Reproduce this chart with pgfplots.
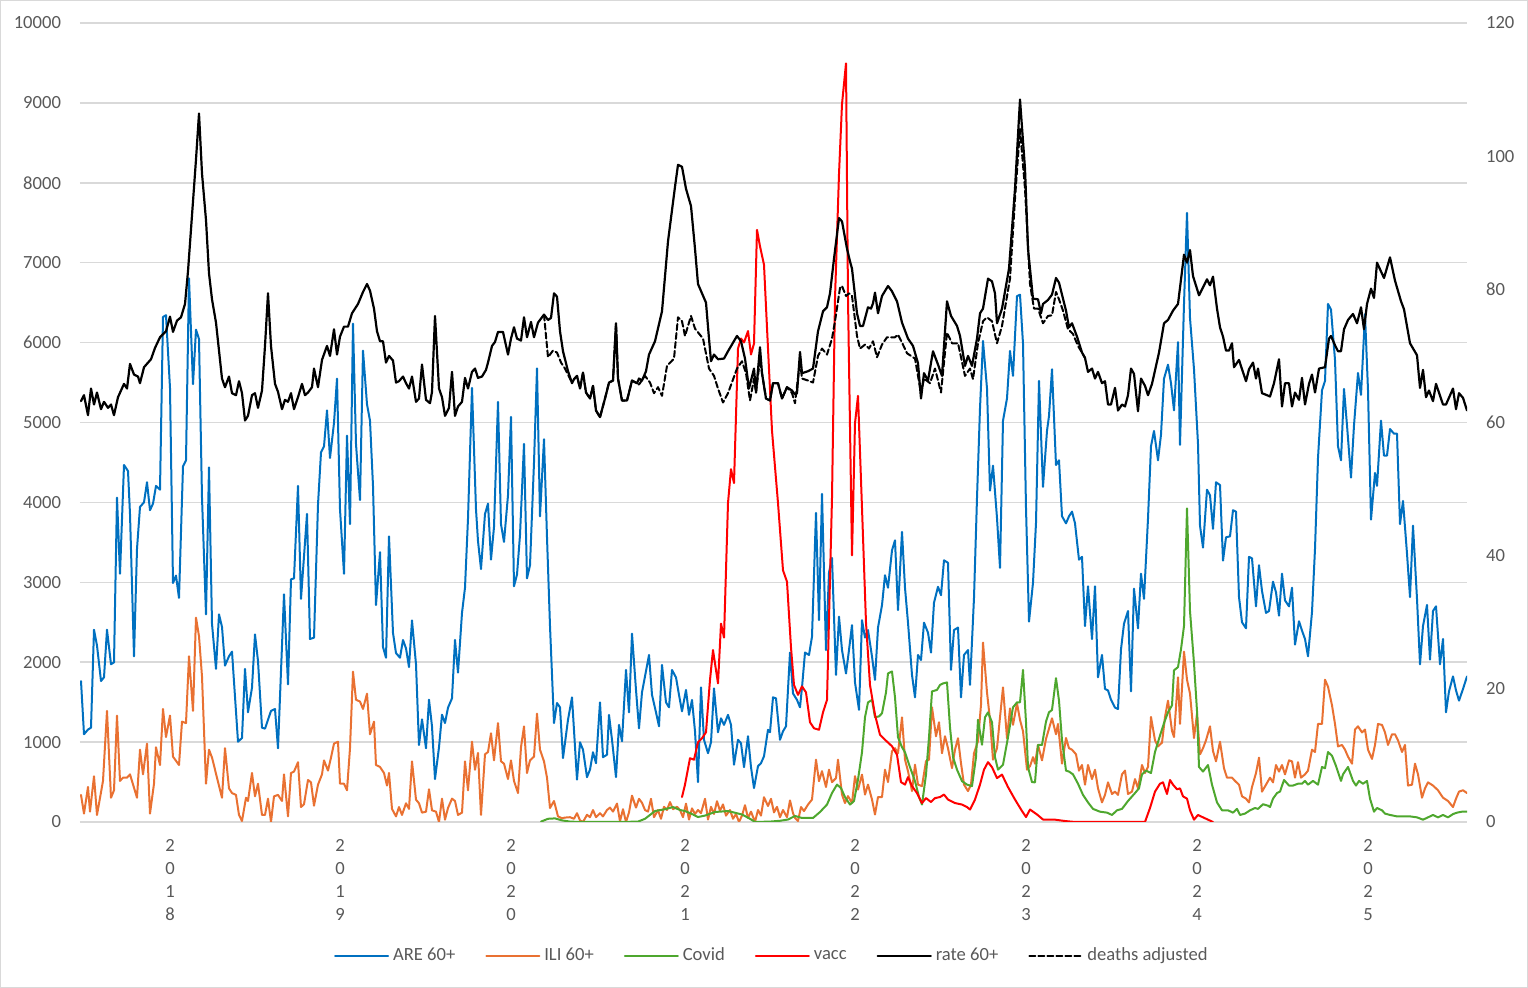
\documentclass[border=0pt]{standalone}
\usepackage{fontspec}
\setmainfont{Carlito}
\usepackage{pgfplots}
\pgfplotsset{compat=1.18}
\usepackage{pgfplotstable}
\definecolor{areblue}{HTML}{0070C0}
\definecolor{iliorange}{HTML}{E97132}
\definecolor{covgreen}{HTML}{4EA72E}
\definecolor{vaccred}{HTML}{FF0000}
\definecolor{labgray}{HTML}{595959}
\definecolor{gridgray}{HTML}{D9D9D9}

% x = position along the weekly time axis, y = value
\pgfplotstableread{
x y
81 1764
84 1098
88 1157
91 1180
94 2406
97 2208
101 1764
104 1811
107 2406
111 1974
114 1998
117 4060
120 3107
124 4468
128 4392
130 3855
134 2074
137 3417
140 3943
144 4001
147 4252
150 3902
153 3984
156 4206
160 4159
163 6320
166 6343
170 5432
173 2991
176 3084
179 2804
183 4451
186 4527
189 6805
193 5479
196 6162
199 6045
202 4060
206 2599
209 4439
212 2482
216 1916
219 2599
222 2441
225 1957
229 2074
232 2132
238 1005
242 1051
245 1916
248 1373
252 1682
255 2348
258 2015
262 1180
265 1168
271 1390
275 1414
278 923
284 2850
288 1723
291 3037
294 3049
298 4206
301 2792
307 3855
310 2290
314 2307
318 3972
321 4626
324 4702
327 5152
330 4556
334 4994
337 5549
340 3913
344 3107
347 4836
350 3727
353 6238
356 4731
360 4030
363 5899
367 5228
370 5023
373 4206
376 2716
380 3376
383 2190
386 2056
389 3575
393 2366
396 2114
400 2056
403 2278
406 2173
409 1939
412 2523
416 1974
419 964
422 1285
426 923
429 1530
432 1197
435 537
439 935
442 1343
445 1238
448 1431
452 1548
455 2278
458 1869
462 2617
465 2932
468 3797
472 5432
476 3913
478 3516
481 3166
485 3855
488 3984
491 3283
494 3692
498 5257
501 3727
504 3505
508 4089
511 5070
514 2950
517 3096
520 3592
524 4731
527 3049
530 3213
534 4498
537 5677
540 3826
544 4790
547 3563
550 2453
554 1238
557 1489
560 1435
563 800
568 1279
572 1560
577 530
580 998
583 905
587 561
590 655
593 873
596 736
600 1497
603 811
607 842
609 1341
612 1029
616 561
619 1216
622 1011
626 1903
629 1372
632 2358
636 1653
639 1173
642 1622
649 2090
652 1591
656 1372
659 1198
662 1965
666 1497
669 1435
672 1903
676 1809
679 1591
682 1385
686 1653
689 1341
692 1528
695 1135
698 499
701 1684
704 1029
708 861
711 998
714 1672
718 1123
721 1297
724 1216
728 1341
731 1216
734 717
738 1029
741 986
744 686
748 1073
751 686
754 424
758 699
761 736
764 823
768 1154
770 1123
773 1560
776 1547
780 1029
783 1135
786 1198
790 2121
793 1609
797 1528
800 1435
802 1684
805 2121
809 2090
812 2320
816 3868
819 2526
822 4105
826 2152
829 3119
832 3306
836 1840
839 2570
842 2152
846 1859
849 2152
852 2464
855 1747
859 1404
862 2526
865 2308
868 2402
872 2071
875 1778
878 2433
882 2714
885 3088
888 2932
892 3400
895 3525
898 2651
902 3631
905 2932
908 2495
912 1840
915 1560
918 2090
921 2027
924 2495
928 2370
931 2121
934 2745
938 2944
941 2838
944 3275
948 3244
951 1903
954 2402
958 2433
961 1560
964 2090
968 2152
970 1715
974 2807
977 4055
980 5177
983 6020
987 5427
990 4148
993 4460
997 3805
1000 3181
1003 5022
1007 5302
1010 5895
1013 5583
1017 6581
1020 6600
1023 5988
1026 3930
1029 2508
1033 2994
1036 3743
1039 5520
1043 4194
1047 4895
1049 5082
1052 5666
1056 4468
1059 4527
1062 3826
1066 3738
1069 3826
1072 3884
1075 3738
1079 3283
1082 3318
1085 2453
1088 2950
1092 2290
1095 2950
1098 1811
1102 2091
1105 1665
1108 1647
1111 1530
1115 1431
1118 1414
1121 2161
1124 2482
1128 2640
1131 1635
1134 2920
1138 2424
1141 3107
1144 2792
1148 3797
1151 4702
1154 4895
1158 4527
1161 4848
1164 5549
1168 5724
1171 5491
1174 5152
1178 6005
1180 4720
1184 6484
1187 7623
1190 6308
1194 5666
1198 4731
1200 3709
1203 3434
1207 4159
1210 4089
1213 3668
1216 4252
1220 4217
1223 3271
1226 3563
1230 3575
1233 3902
1236 3884
1239 2815
1242 2500
1246 2424
1249 3318
1252 3300
1256 2699
1259 3213
1262 2891
1266 2617
1269 2640
1273 3008
1276 2874
1279 2582
1282 3107
1285 2774
1289 2699
1292 2932
1295 2220
1299 2512
1302 2395
1305 2290
1308 2074
1312 2628
1315 3417
1318 4556
1322 5403
1325 5520
1328 6484
1331 6413
1335 5783
1338 4702
1341 4527
1344 5420
1347 4965
1351 4311
1354 4965
1358 5619
1361 5345
1365 6355
1368 5403
1371 3785
1375 4369
1377 4206
1381 5023
1384 4585
1387 4585
1390 4918
1394 4860
1397 4860
1400 3727
1403 4019
1407 3359
1410 2815
1413 3709
1417 2792
1420 1974
1423 2453
1427 2716
1430 2033
1433 2640
1436 2699
1440 1974
1443 2290
1446 1373
1449 1635
1453 1822
1456 1647
1459 1519
1463 1665
1467 1822
}\areTable

\pgfplotstableread{
x y
81 339
84 105
88 438
90 129
94 572
97 88
103 514
107 1390
111 304
114 397
117 1332
120 514
123 555
127 555
130 596
137 304
140 905
143 596
147 981
150 105
154 479
156 935
160 713
163 1414
166 1063
170 1332
173 818
179 713
182 1256
186 1238
189 2074
193 1390
196 2558
199 2325
202 1822
206 479
209 905
212 806
222 304
225 923
229 421
232 362
236 339
239 88
242 12
246 304
248 263
252 613
255 321
258 479
262 88
265 88
268 292
271 0
274 321
278 339
282 263
284 596
288 70
291 613
294 631
298 748
301 187
304 222
308 526
311 496
314 204
318 467
322 596
324 771
328 643
331 806
334 981
338 1005
340 479
344 479
347 397
350 923
353 1881
356 1530
360 1507
363 1414
367 1606
370 1098
374 1256
376 713
380 689
384 613
387 456
389 613
392 164
396 70
399 187
402 88
406 234
409 164
412 759
416 280
419 234
422 117
426 129
429 409
432 146
436 129
439 0
442 292
445 29
448 175
452 292
455 263
458 88
462 117
465 759
468 397
472 1005
475 654
478 864
481 88
485 847
488 876
491 1110
494 771
498 1238
501 759
504 730
508 537
511 771
514 514
518 362
521 935
524 1197
527 613
530 771
534 818
537 1355
540 905
544 759
547 555
550 175
554 263
558 70
562 47
565 55
570 60
574 40
577 110
580 20
583 0
587 90
590 60
593 150
596 60
600 110
603 70
607 150
610 180
613 130
617 230
620 10
623 160
626 0
629 120
632 330
636 180
639 290
642 240
645 150
648 130
651 290
654 60
658 150
661 40
664 190
667 150
670 250
673 160
677 190
680 150
683 60
686 230
689 30
692 170
695 100
698 150
701 110
705 290
708 30
711 190
714 100
717 260
720 140
723 220
726 80
730 150
733 40
736 100
739 0
742 80
745 210
748 50
751 130
755 0
758 150
761 80
764 310
768 200
771 290
774 120
777 190
780 60
783 150
787 60
790 270
793 110
795 50
798 12
801 187
804 137
808 218
812 281
816 780
819 511
822 636
826 437
829 655
832 499
836 549
838 780
842 343
845 237
848 324
852 237
855 574
858 405
862 593
865 343
868 468
872 281
875 94
878 312
882 312
885 655
888 499
892 886
895 923
898 861
902 1310
905 780
908 636
912 387
915 717
918 468
922 449
926 761
929 780
932 1435
936 1073
939 1248
942 861
945 1073
948 923
952 674
955 905
958 1048
961 736
964 468
968 387
971 468
974 861
978 1011
981 1466
983 2246
987 1622
990 1279
993 780
997 923
1000 1310
1003 1684
1007 1048
1010 1422
1013 1216
1017 1485
1020 1279
1023 1135
1027 655
1030 699
1033 811
1035 730
1038 964
1042 771
1046 1040
1049 1168
1052 1297
1056 1098
1058 1227
1062 730
1066 1051
1069 923
1072 905
1076 847
1079 643
1082 713
1085 467
1088 713
1092 537
1095 654
1098 421
1102 245
1105 339
1108 496
1112 350
1115 380
1118 339
1122 596
1125 643
1128 350
1132 380
1135 537
1138 421
1142 713
1145 613
1148 689
1151 1314
1155 1022
1158 946
1162 993
1165 1314
1168 1519
1172 1139
1174 1063
1178 1811
1180 1227
1184 2132
1187 1781
1190 1606
1194 1051
1197 1355
1200 847
1203 923
1206 1022
1210 1197
1213 888
1216 759
1220 1005
1224 672
1227 555
1232 555
1235 514
1239 467
1242 321
1246 292
1249 245
1252 438
1256 613
1259 806
1262 380
1266 467
1270 555
1273 496
1276 713
1279 631
1282 713
1285 596
1289 771
1292 759
1295 555
1298 748
1301 555
1305 596
1308 643
1312 905
1315 876
1318 1227
1322 1227
1325 1781
1328 1694
1332 1460
1335 1227
1338 946
1342 964
1345 905
1348 818
1352 730
1355 1157
1358 1197
1362 1121
1365 1157
1368 905
1372 789
1375 964
1378 1227
1382 1215
1385 1121
1388 964
1392 1098
1395 1098
1398 1022
1402 876
1405 964
1408 456
1412 467
1415 730
1418 596
1422 304
1425 421
1428 496
1433 456
1438 397
1443 304
1448 263
1453 187
1456 292
1459 380
1463 397
1467 362
}\iliTable

\pgfplotstableread{
x y
541 5
548 40
555 45
562 20
570 5
580 0
600 0
620 0
638 5
645 40
655 137
665 160
673 187
680 150
685 137
692 100
698 62
705 80
715 125
728 137
742 94
750 40
755 0
770 5
780 15
788 31
795 75
802 50
813 50
820 125
827 218
832 362
837 468
841 424
845 312
850 218
854 262
858 530
862 873
865 1310
868 1497
872 1528
875 1310
879 1322
882 1360
886 1622
888 1859
892 1884
895 1560
898 1060
902 936
905 873
910 686
915 511
919 312
922 218
926 593
929 1060
932 1634
937 1653
940 1715
943 1734
947 1747
950 1185
953 811
957 655
962 511
967 468
972 449
976 811
978 1279
982 967
985 1310
988 1372
992 1248
995 811
998 655
1003 717
1008 1060
1013 1435
1017 1497
1020 1497
1023 1903
1026 1248
1028 686
1032 499
1035 496
1038 964
1042 964
1046 1256
1049 1373
1052 1402
1056 1799
1059 1519
1062 1022
1066 643
1069 631
1073 596
1078 479
1083 339
1088 245
1093 164
1100 129
1107 117
1112 88
1117 146
1122 164
1128 263
1135 362
1139 421
1142 596
1146 643
1151 613
1155 876
1160 1081
1164 1238
1168 1373
1172 1460
1174 1898
1178 1939
1181 2161
1184 2453
1187 3925
1190 2640
1194 1986
1197 1390
1199 689
1203 631
1208 713
1212 467
1217 245
1222 146
1228 146
1233 117
1237 164
1240 88
1245 105
1250 146
1255 175
1258 164
1263 222
1268 204
1270 187
1273 292
1277 362
1280 380
1284 526
1289 456
1293 456
1298 479
1302 479
1305 514
1308 467
1313 514
1318 467
1322 689
1325 672
1328 876
1332 829
1336 701
1341 514
1343 596
1348 689
1353 514
1356 456
1359 514
1363 479
1367 514
1370 292
1374 129
1377 175
1382 146
1385 105
1390 88
1397 70
1403 70
1410 70
1417 58
1423 29
1428 58
1433 88
1438 58
1443 88
1448 58
1453 99
1457 117
1462 129
1467 129
}\covTable

\pgfplotstableread{
x y
682 312
685 468
690 798
694 780
698 998
702 1048
706 1123
710 1778
713 2152
718 1734
721 2483
724 2308
728 3992
731 4416
734 4242
738 5926
741 6051
744 6001
748 6144
751 5851
754 5988
757 7411
760 7205
764 6974
768 5926
772 4897
778 3992
783 3150
787 3007
791 2183
794 1715
798 1591
802 1697
806 1622
810 1248
814 1173
819 1154
823 1372
827 1528
832 4055
835 6550
839 8109
842 8983
846 9494
848 6550
852 3337
855 4990
858 5334
862 3930
866 2495
870 1715
875 1341
880 1092
885 1029
892 948
897 842
901 499
905 468
908 561
912 449
917 362
922 237
926 299
931 250
935 299
940 312
944 343
948 281
955 237
962 218
967 187
970 156
975 281
980 468
984 655
988 749
992 686
997 549
1002 593
1008 437
1015 281
1022 137
1026 62
1030 156
1037 94
1043 31
1055 29
1065 12
1075 0
1145 0
1150 175
1155 380
1160 479
1163 496
1167 350
1170 526
1173 467
1177 409
1180 421
1183 321
1187 292
1190 146
1194 29
1198 88
1203 58
1208 29
1213 0
}\vaccTable

\pgfplotstableread{
x y
81 63.2
84 64.1
88 61.1
91 65.1
94 62.7
97 64.5
101 62.0
104 63.1
108 62.2
111 62.7
114 61.1
118 63.8
124 65.8
127 65.1
130 68.8
134 67.2
138 66.9
140 65.9
144 68.3
151 69.5
155 71.2
160 72.8
166 73.7
170 75.9
173 73.6
177 75.3
181 75.8
185 77.8
188 82.7
192 91.1
196 99.5
199 106.4
202 97.4
206 90.4
209 82.4
212 78.5
216 75.0
222 66.6
225 65.3
229 66.9
232 64.4
236 64.1
239 66.2
242 64.4
245 60.3
248 61.0
252 64.1
255 64.4
258 62.2
262 64.8
265 71.5
268 79.4
271 71.5
275 65.8
278 64.6
282 62.0
285 63.4
288 63.1
291 64.4
294 62.0
298 63.8
302 65.8
305 64.1
308 64.5
312 65.3
314 68.1
318 65.3
322 69.4
327 71.5
330 70.0
334 74.0
337 70.2
340 72.9
344 74.4
348 74.4
352 76.4
358 77.8
363 79.6
367 80.8
370 79.8
374 77.1
377 73.7
380 72.2
383 72.2
386 69.0
389 70.0
393 69.3
396 66.0
399 66.2
403 66.9
406 65.9
409 65.1
412 66.9
416 63.1
419 63.6
422 68.7
426 63.4
430 62.9
432 64.6
435 76.0
439 65.1
442 63.8
445 61.0
449 62.2
452 67.6
455 61.0
458 62.4
462 63.1
465 66.7
468 65.1
472 67.6
475 68.1
478 66.7
482 66.9
486 67.9
488 69.0
492 71.5
495 72.1
498 73.6
503 73.6
508 70.2
511 72.6
514 74.3
517 72.6
521 72.3
524 75.8
527 72.8
531 75.1
534 72.8
538 75.0
544 76.2
548 75.4
551 75.7
554 79.4
557 78.9
560 73.7
563 70.7
568 67.7
572 65.9
574 66.5
577 67.0
580 65.1
583 67.5
586 64.5
590 63.6
593 65.5
596 61.8
600 60.8
605 63.6
609 66.0
613 66.3
616 74.9
618 66.6
622 63.3
627 63.3
632 66.3
637 65.9
639 66.6
642 66.3
646 67.7
649 70.2
655 72.2
662 76.7
668 87.2
675 95.4
678 98.7
682 98.4
686 95.1
691 92.5
695 86.1
698 80.8
702 79.4
706 78.0
709 72.6
711 69.2
714 70.2
718 69.5
724 69.6
728 70.7
737 73.0
741 72.2
745 69.6
749 65.1
754 68.1
756 64.5
760 71.3
762 67.4
766 63.6
770 63.3
773 65.9
778 65.9
782 63.6
787 65.3
792 64.8
795 64.2
797 64.4
800 70.6
802 67.4
808 67.7
813 68.1
818 73.7
823 76.7
827 77.3
830 79.4
834 84.6
839 90.7
842 90.2
847 86.1
850 84.2
852 83.1
857 76.4
860 74.5
863 74.5
868 77.3
871 77.1
873 77.9
875 79.5
878 76.4
882 79.0
888 80.5
892 79.7
897 78.2
902 75.0
908 72.6
913 71.5
918 68.9
921 63.6
924 67.4
928 66.3
933 70.7
938 68.7
942 67.0
947 78.2
951 76.0
957 74.5
960 73.0
965 68.5
968 70.0
972 68.5
977 72.6
980 76.4
983 77.1
988 81.6
992 81.2
995 79.4
997 74.9
1002 77.1
1009 83.1
1015 95.1
1020 108.5
1025 98.1
1028 86.1
1033 78.6
1038 78.5
1041 76.4
1043 77.8
1048 78.4
1052 79.2
1056 81.7
1059 81.0
1062 79.2
1066 76.8
1069 74.3
1072 74.9
1077 72.9
1082 70.5
1085 69.7
1088 67.6
1092 68.1
1095 66.6
1098 67.6
1102 65.9
1105 66.2
1108 62.7
1111 62.7
1115 65.2
1118 61.8
1122 62.7
1125 62.4
1128 64.1
1131 68.1
1134 67.3
1138 61.7
1141 66.6
1145 65.5
1148 64.1
1152 65.8
1159 70.5
1164 74.9
1168 75.4
1173 76.8
1178 77.8
1182 82.7
1184 85.2
1187 84.0
1190 85.9
1193 82.0
1199 79.1
1203 80.3
1207 81.5
1210 80.6
1213 81.9
1217 77.1
1220 74.3
1223 72.9
1226 70.8
1229 70.8
1232 71.9
1234 68.3
1239 69.4
1242 68.0
1246 66.2
1249 68.0
1253 69.0
1256 66.6
1258 68.1
1262 64.4
1267 64.1
1270 63.9
1274 65.9
1279 69.5
1282 62.4
1285 65.9
1289 65.9
1292 62.4
1295 64.5
1299 63.4
1302 66.7
1305 62.7
1309 65.8
1312 67.2
1315 64.5
1319 68.1
1325 68.3
1329 72.6
1331 73.0
1335 71.6
1338 70.7
1341 70.7
1344 74.0
1348 75.4
1353 76.3
1357 74.9
1361 77.3
1364 74.0
1367 77.8
1371 80.1
1374 78.7
1377 84.0
1384 81.7
1390 84.8
1395 81.3
1401 78.2
1404 77.0
1410 71.9
1417 70.1
1420 65.2
1423 67.9
1426 63.8
1429 64.8
1433 63.2
1436 65.8
1443 62.7
1446 62.7
1453 65.1
1456 62.0
1459 64.4
1463 63.7
1467 61.8
}\rateTable

\pgfplotstableread{
x y
544 76.2
548 69.8
553 70.8
557 70.5
561 69.0
565 68.1
571 66.3
574 66.5
577 67.0
580 65.1
583 67.5
586 64.5
590 63.6
593 65.5
596 61.8
600 60.8
605 63.6
609 66.0
613 66.3
616 74.9
618 66.6
622 63.3
627 63.3
632 66.3
639 65.7
645 67.0
650 66.0
654 64.4
658 65.3
662 64.0
667 68.5
674 69.6
678 75.8
682 75.2
685 73.0
691 76.0
695 74.1
703 72.6
709 68.1
714 67.0
718 65.1
723 63.0
728 64.4
737 68.1
742 69.2
746 67.4
750 63.3
754 66.6
756 64.5
760 69.5
762 67.4
766 63.6
770 63.3
773 65.9
778 65.9
782 63.6
787 65.3
792 64.4
795 62.9
800 69.2
802 66.6
808 66.3
813 66.0
818 70.0
822 71.1
827 70.2
832 72.6
835 75.2
840 80.2
842 80.5
846 79.0
849 79.4
852 79.0
857 73.0
860 71.1
865 71.7
869 71.1
873 72.2
877 69.8
882 71.7
887 72.8
895 72.8
898 73.2
902 72.0
907 70.4
915 69.6
921 64.4
924 66.6
930 65.9
935 68.1
941 64.5
947 73.5
952 71.9
958 71.9
965 67.0
970 68.1
973 66.5
978 71.9
983 75.2
987 75.8
992 75.2
997 71.9
1002 74.5
1010 81.6
1015 93.6
1020 104.1
1025 95.1
1030 80.8
1034 77.1
1038 77.1
1043 74.9
1048 76.0
1052 76.1
1056 79.6
1059 78.5
1063 76.8
1068 74.0
1073 73.3
1078 71.5
1082 70.5
1085 69.7
}\deathTable

\begin{document}
\begin{tikzpicture}
\useasboundingbox (-40pt,-83pt) rectangle (724pt,411pt);
\draw[gridgray, line width=0.5pt] (-39.75pt,-82.75pt) rectangle (723.75pt,410.75pt);
\pgfplotsset{
  common/.style={
    scale only axis, width=693.5pt, height=399.5pt,
    at={(0pt,0pt)}, anchor=south west,
    xmin=80, xmax=1467,
    major tick length=0pt,
    scaled y ticks=false,
    tick label style={font=\fontsize{9.3}{11.5}\selectfont, text=labgray},
    /pgf/number format/assume math mode=true,
    /pgf/number format/1000 sep={},
    every axis plot/.append style={line join=round, line cap=round},
  }
}
\begin{axis}[common,
  ymin=0, ymax=10000, ytick={0,1000,...,10000},
  ymajorgrids, grid style={draw=gridgray, line width=0.75pt},
  axis x line*=bottom, axis y line*=left,
  y axis line style={draw=none},
  x axis line style={draw=gridgray, line width=0.75pt, -},
  xtick={170,340,511,685,855,1026,1197,1368},
  xticklabels={{2\\0\\1\\8},{2\\0\\1\\9},{2\\0\\2\\0},{2\\0\\2\\1},{2\\0\\2\\2},{2\\0\\2\\3},{2\\0\\2\\4},{2\\0\\2\\5}},
  xticklabel style={align=center, anchor=north, yshift=-5pt},
  yticklabel style={anchor=east, xshift=-6pt},
]
\addplot[areblue, line width=1pt] table {\areTable};
\addplot[iliorange, line width=1pt] table {\iliTable};
\addplot[covgreen, line width=1pt] table {\covTable};
\addplot[vaccred, line width=1pt] table {\vaccTable};
\end{axis}
\begin{axis}[common,
  ymin=0, ymax=120, ytick={0,20,...,120},
  axis y line*=right, axis x line=none,
  y axis line style={draw=none},
  yticklabel style={anchor=west, xshift=6pt},
  legend columns=6,
  legend cell align=left,
  legend image code/.code={\draw[#1] (0pt,0pt) -- (26.5pt,0pt);},
  legend style={at={(0.4995,0)}, anchor=center, yshift=-67pt, draw=none, fill=none,
    font=\fontsize{9.3}{11.5}\selectfont, text=labgray,
    /tikz/every even column/.append style={column sep=13pt}},
]
\addlegendimage{areblue, line width=1pt}\addlegendentry{ARE 60+}
\addlegendimage{iliorange, line width=1pt}\addlegendentry{ILI 60+}
\addlegendimage{covgreen, line width=1pt}\addlegendentry{Covid}
\addlegendimage{vaccred, line width=1pt}\addlegendentry{vacc}
\addplot[black, line width=1.1pt] table {\rateTable};
\addlegendentry{rate 60+}
\addplot[black, line width=1pt, dash pattern=on 3pt off 1.5pt] table {\deathTable};
\addlegendentry{deaths adjusted}
\end{axis}
\end{tikzpicture}
\end{document}
